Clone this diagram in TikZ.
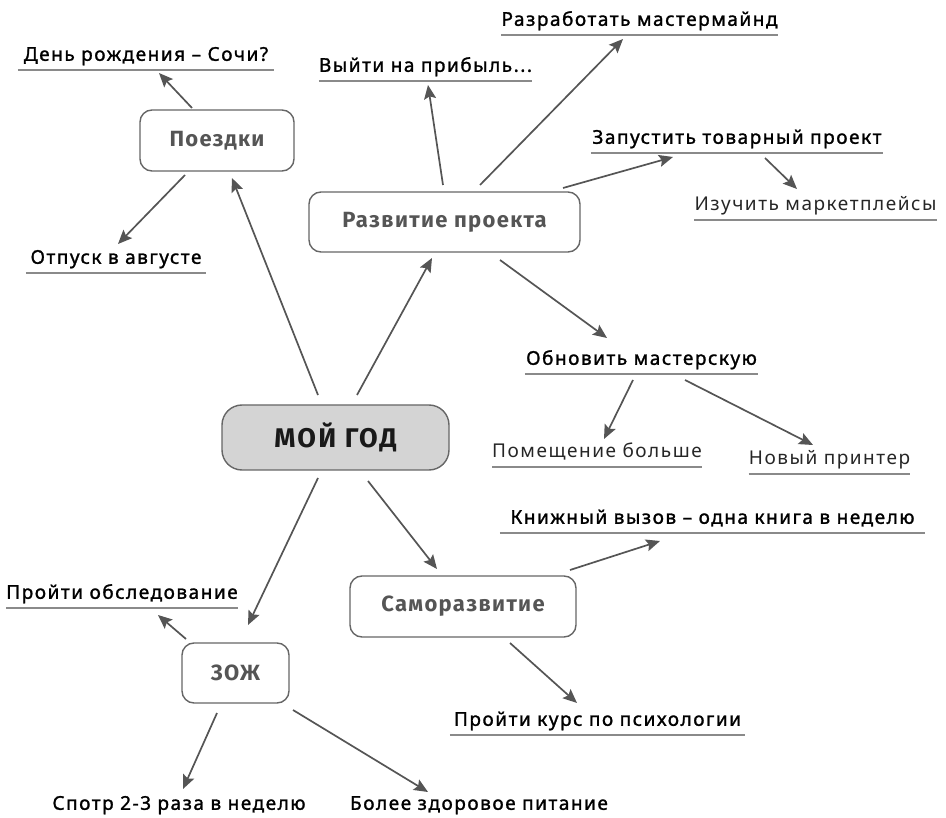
\documentclass[tikz,border=0pt]{standalone}
\usepackage{fontspec}
\setmainfont{Noto Sans}[LetterSpace=8]
\newfontfamily\medfont{Noto Sans}[LetterSpace=8, FakeBold=1.4]
\newfontfamily\hubfont{Fira Sans}[LetterSpace=6]
\newfontfamily\centerfont{Fira Sans}[LetterSpace=8]
\usetikzlibrary{arrows.meta}
\definecolor{arrc}{HTML}{555555}
\definecolor{boxc}{HTML}{666666}
\definecolor{hubtext}{HTML}{555555}
\definecolor{ulc}{HTML}{8A8A8A}
\definecolor{centerfill}{HTML}{D4D4D4}
\tikzset{
  hub/.style={draw=boxc, line width=1.4pt, rounded corners=12pt, text=hubtext,
    font=\hubfont\bfseries\fontsize{22}{26}\selectfont, inner sep=0pt},
  centerbox/.style={hub, fill=centerfill, rounded corners=20pt, text=black!90,
    font=\centerfont\bfseries\fontsize{27}{31}\selectfont},
  lbl/.style={anchor=south, inner xsep=0pt, inner ysep=5pt, text height=14pt, text depth=4pt,
    font=\medfont\fontsize{19}{22}\selectfont, text=black},
  lightlbl/.style={lbl, font=\fontsize{19}{22}\selectfont, text=black!85},
  uline/.style={draw=ulc, line width=1.3pt},
  arr/.style={draw=arrc, line width=1.7pt, -{Stealth[length=14pt, width=12pt, inset=2.5pt]}}
}
\begin{document}
\begin{tikzpicture}[x=1pt, y=-1pt]
\useasboundingbox (0,0) rectangle (946,818);
% hubs
\node[centerbox, minimum width=227pt, minimum height=65pt] (c) at (335.5,437.5) {МОЙ ГОД};
\node[hub, minimum width=154pt, minimum height=61pt] (p) at (217,140.5) {Поездки};
\node[hub, minimum width=271pt, minimum height=60pt] (r) at (444.5,222) {Развитие проекта};
\node[hub, minimum width=226pt, minimum height=61pt] (s) at (463,606.5) {Саморазвитие};
\node[hub, minimum width=107pt, minimum height=60pt] (z) at (235.5,673) {ЗОЖ};
% labels
\node[lbl, minimum width=256pt] (l1) at (146,70) {День рождения – Сочи?};
\node[lbl, minimum width=180pt] (l2) at (116,273) {Отпуск в августе};
\node[lbl, minimum width=213pt] (l3) at (425.5,81) {Выйти на прибыль...};
\node[lbl, minimum width=273pt] (l4) at (639.5,35) {Разработать мастермайнд};
\node[lbl, minimum width=292pt] (l5) at (737,153) {Запустить товарный проект};
\node[lightlbl, minimum width=241pt] (l6) at (815.5,220) {Изучить маркетплейсы};
\node[lbl, minimum width=233pt] (l7) at (641.5,374) {Обновить мастерскую};
\node[lightlbl, minimum width=206pt] (l8) at (597,467) {Помещение больше};
\node[lightlbl, minimum width=161pt] (l9) at (829.5,474) {Новый принтер};
\node[lbl, minimum width=425pt] (l10) at (712.5,533) {Книжный вызов – одна книга в неделю};
\node[lbl, minimum width=295pt] (l11) at (597.5,735) {Пройти курс по психологии};
\node[lbl, minimum width=230pt] (l12) at (122,608) {Пройти обследование};
\node[lbl, minimum width=298pt] (l13) at (179,819) {Спотр 2-3 раза в неделю};
\node[lbl, minimum width=258pt] (l14) at (479,819) {Более здоровое питание};
% underlines
\foreach \n in {l1,l2,l3,l4,l5,l6,l7,l8,l9,l10,l11,l12}
  \draw[uline] (\n.south west) -- (\n.south east);
% connectors
\draw[arr] ([shift={(-17.5,-42.5)}]c.center) -- ([shift={(15,37.5)}]p.center);
\draw[arr] ([shift={(21.5,-42.5)}]c.center) -- ([shift={(-12.5,36)}]r.center);
\draw[arr] ([shift={(-17.5,40.5)}]c.center) -- ([shift={(12.5,-48)}]z.center);
\draw[arr] ([shift={(32.5,43.5)}]c.center) -- ([shift={(-26,-37.5)}]s.center);
\draw[arr] ([shift={(-25,-32.5)}]p.center) -- ([shift={(13,3)}]l1.south);
\draw[arr] ([shift={(-32,34.5)}]p.center) -- ([shift={(2,-29)}]l2.south);
\draw[arr] ([shift={(-1.5,-37)}]r.center) -- ([shift={(2.5,4)}]l3.south);
\draw[arr] ([shift={(35.5,-37)}]r.center) -- ([shift={(-16.5,4)}]l4.south);
\draw[arr] ([shift={(118.5,-34)}]r.center) -- ([shift={(-64,4)}]l5.south);
\draw[arr] ([shift={(28,5)}]l5.south) -- ([shift={(-18.5,-31)}]l6.south);
\draw[arr] ([shift={(55.5,38)}]r.center) -- ([shift={(-34.5,-36)}]l7.south);
\draw[arr] ([shift={(-8.5,6)}]l7.south) -- ([shift={(7,-28)}]l8.south);
\draw[arr] ([shift={(43.5,6)}]l7.south) -- ([shift={(-16.5,-29)}]l9.south);
\draw[arr] ([shift={(107,-36.5)}]s.center) -- ([shift={(-52.5,8)}]l10.south);
\draw[arr] ([shift={(47,36.5)}]s.center) -- ([shift={(-20.5,-32)}]l11.south);
\draw[arr] ([shift={(-49.5,-34)}]z.center) -- ([shift={(36,7)}]l12.south);
\draw[arr] ([shift={(-18.5,40)}]z.center) -- ([shift={(4,-30)}]l13.south);
\draw[arr] ([shift={(57.5,37)}]z.center) -- ([shift={(-51,-27)}]l14.south);
\end{tikzpicture}
\end{document}
